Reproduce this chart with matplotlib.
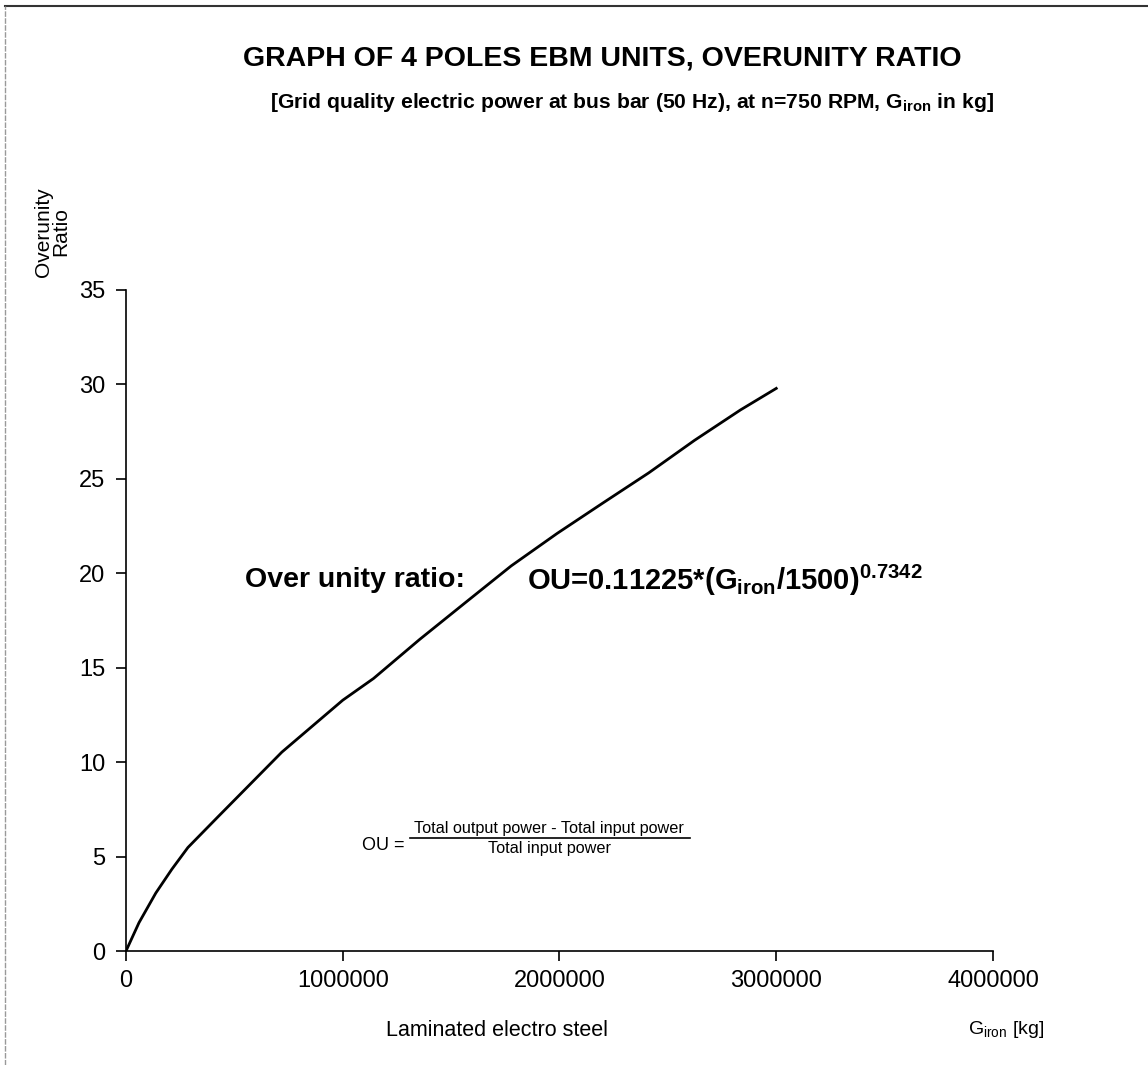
import matplotlib.pyplot as plt
from matplotlib.lines import Line2D

plt.rcParams['font.family'] = ['Liberation Sans', 'DejaVu Sans']
plt.rcParams['mathtext.fontset'] = 'custom'
plt.rcParams['mathtext.rm'] = 'Liberation Sans'
plt.rcParams['mathtext.bf'] = 'Liberation Sans:bold'

# values
G_IRON = [0, 60000, 137500, 211600, 285600, 423000, 571000, 719000, 1000000,
          1142000, 1354000, 1565000, 1777000, 1989000, 2200000, 2412000,
          2623000, 2835000, 3000000]
OU = [0, 1.5, 3.07, 4.33, 5.48, 7.09, 8.81, 10.53, 13.28,
      14.43, 16.49, 18.44, 20.39, 22.11, 23.72, 25.32,
      27.04, 28.65, 29.79]

X_TICKS = [0, 1000000, 2000000, 3000000, 4000000]
Y_TICKS = [0, 5, 10, 15, 20, 25, 30, 35]

W, H = 1148, 1065
fig = plt.figure(figsize=(W / 100, H / 100), dpi=100)
ax = fig.add_axes([126 / W, 1 - 951 / H, (993 - 126) / W, (951 - 290) / H])

ax.plot(G_IRON, OU, color="black", lw=2.0)
ax.set_xlim(0, 4000000)
ax.set_ylim(0, 35)
ax.set_xticks(X_TICKS)
ax.set_xticklabels([str(v) for v in X_TICKS])
ax.set_yticks(Y_TICKS)
ax.set_yticklabels([str(v) for v in Y_TICKS])
for s in ["top", "right"]:
    ax.spines[s].set_visible(False)
for s in ["left", "bottom"]:
    ax.spines[s].set_linewidth(1.2)
ax.tick_params(direction="out", length=7, width=1.2, labelsize=17)
ax.tick_params(axis="x", pad=7)
ax.tick_params(axis="y", pad=8)

# titles
fig.text(602 / W, 1 - 58 / H, "GRAPH OF 4 POLES EBM UNITS, OVERUNITY RATIO",
         ha="center", va="center", fontsize=20.5, fontweight="bold")
fig.text(632 / W, 1 - 103 / H,
         r"[Grid quality electric power at bus bar (50 Hz), at n=750 RPM, G$_{\mathbf{iron}}$ in kg]",
         ha="center", va="center", fontsize=15.2, fontweight="bold")

# axis labels
fig.text(52 / W, 1 - 232 / H, "Overunity\nRatio", rotation=90, ha="center",
         va="center", fontsize=15, linespacing=0.85)
fig.text(497 / W, 1 - 1030 / H, "Laminated electro steel", ha="center",
         va="center", fontsize=15.5)
fig.text(968 / W, 1 - 1030 / H, r"G$_{\mathrm{iron}}$ [kg]", ha="left",
         va="center", fontsize=14)

# annotations
fig.text(245 / W, 1 - 580 / H, "Over unity ratio:", ha="left", va="center",
         fontsize=20.5, fontweight="bold")
fig.text(527 / W, 1 - 580 / H,
         r"OU=0.11225*(G$_{\mathbf{iron}}$/1500)$^{\mathbf{0.7342}}$",
         ha="left", va="center", fontsize=21, fontweight="bold")

fig.text(362 / W, 1 - 846 / H, "OU =", ha="left", va="center", fontsize=13)
fig.text(549 / W, 1 - 829 / H, "Total output power - Total input power",
         ha="center", va="center", fontsize=11.7)
fig.text(549 / W, 1 - 848 / H, "Total input power", ha="center", va="center",
         fontsize=11.7)
fig.add_artist(Line2D([410 / W, 690 / W], [1 - 838 / H, 1 - 838 / H],
                      color="black", lw=1.2))

# outer frame
fig.add_artist(Line2D([5 / W, 1], [1 - 6 / H, 1 - 6 / H], color="#333333", lw=1.5))
fig.add_artist(Line2D([5 / W, 5 / W], [0, 1 - 6 / H], color="#999999", lw=1.0,
                      ls=(0, (4, 1))))

fig.savefig("out.png", dpi=100)
